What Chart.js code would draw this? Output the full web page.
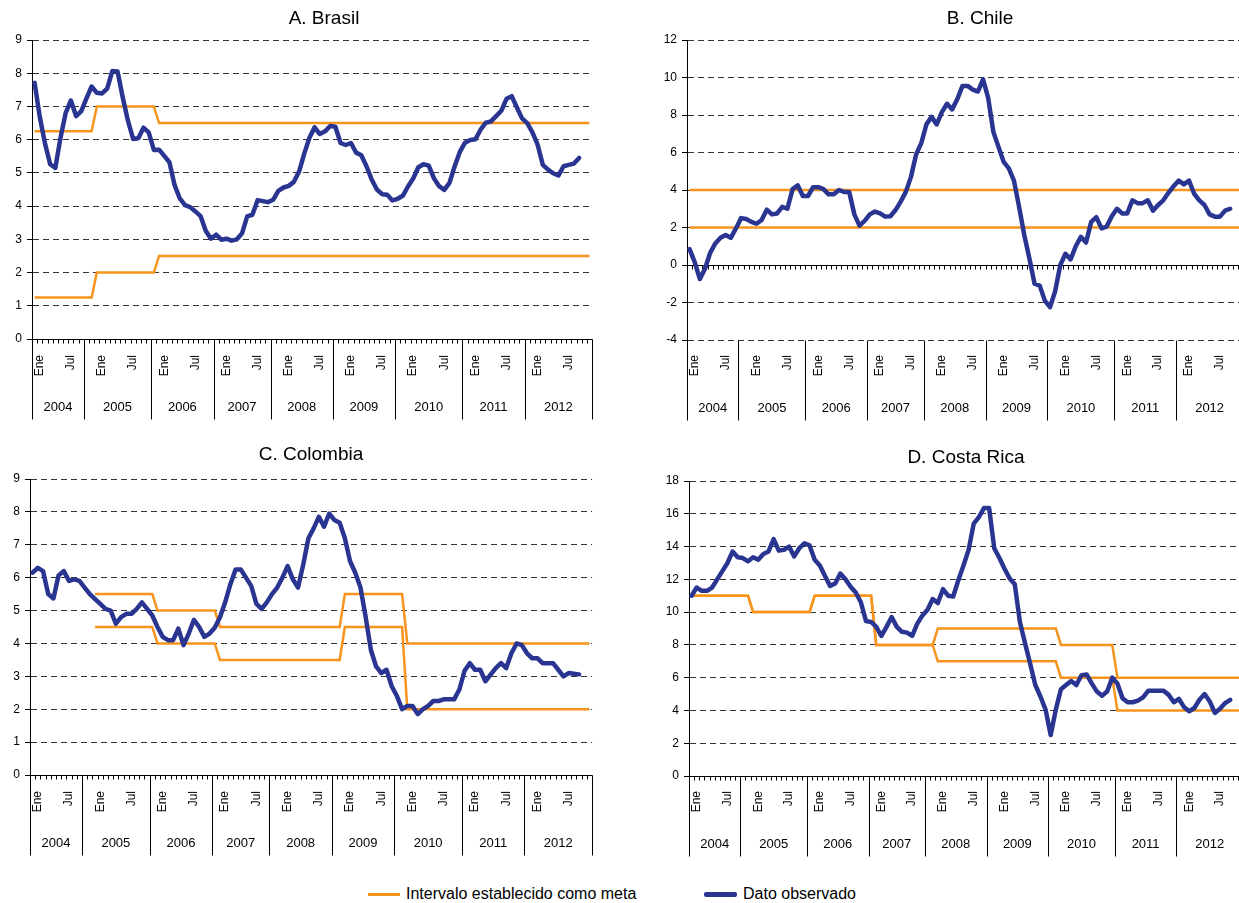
<!DOCTYPE html>
<html>
<head>
<meta charset="utf-8">
<script src="https://cdn.jsdelivr.net/npm/chart.js@4.4.1/dist/chart.umd.min.js"></script>
<style>
html,body{margin:0;padding:0;background:#fff;}
#wrap{position:relative;width:1239px;height:903px;overflow:hidden;font-family:'Liberation Sans',Arial,sans-serif;color:#000;}
canvas{position:absolute;}
.title{position:absolute;font-size:19px;line-height:20px;white-space:nowrap;transform:translateX(-50%);z-index:2;}
.leg{position:absolute;font-size:16px;line-height:18px;white-space:nowrap;display:flex;align-items:center;}
.sw{display:inline-block;margin-right:6px;}
</style>
</head>
<body>
<div id="wrap">
  <canvas id="cA" width="620" height="430" style="left:0;top:0"></canvas>
  <canvas id="cB" width="630" height="430" style="left:640px;top:0"></canvas>
  <canvas id="cC" width="620" height="430" style="left:0;top:435px"></canvas>
  <canvas id="cD" width="630" height="430" style="left:640px;top:435px"></canvas>
  <div class="title" style="left:324px;top:8px">A. Brasil</div>
  <div class="title" style="left:980px;top:8px">B. Chile</div>
  <div class="title" style="left:311px;top:444px">C. Colombia</div>
  <div class="title" style="left:966px;top:447px">D. Costa Rica</div>
  <div class="leg" style="left:368px;top:885px"><span class="sw" style="width:32px;height:3px;background:#F7941D"></span>Intervalo establecido como meta</div>
  <div class="leg" style="left:704px;top:885px"><span class="sw" style="width:33px;height:5px;border-radius:2px;background:#2A3591"></span>Dato observado</div>
</div>
<script>
// ---------- categories / tick labels ----------
const years = ['2004','2005','2006','2007','2008','2009','2010','2011','2012'];
const monthTicks = ['', 'Ene', '', '', '', '', '', 'Jul', '', '', '', ''];
// category boundaries of the year boxes as drawn in the source
const yearBounds = [0, 10, 23, 35, 46, 58, 70, 83, 95, 108];

// ---------- A. Brasil ----------
const brasilObs = [
 7.71,6.69,5.89,5.26,5.15,6.06,6.81,7.18,6.71,6.86,7.24,7.60,
 7.41,7.39,7.54,8.07,8.05,7.27,6.57,6.02,6.04,6.36,6.22,5.69,
 5.70,5.51,5.32,4.63,4.23,4.03,3.97,3.84,3.70,3.26,3.02,3.14,
 2.99,3.02,2.96,3.00,3.18,3.69,3.74,4.18,4.15,4.12,4.19,4.46,
 4.56,4.61,4.73,5.04,5.58,6.06,6.37,6.17,6.25,6.41,6.39,5.90,
 5.84,5.90,5.61,5.53,5.20,4.80,4.50,4.36,4.34,4.17,4.22,4.31,
 4.59,4.83,5.17,5.26,5.22,4.84,4.60,4.49,4.70,5.20,5.63,5.91,
 5.99,6.01,6.30,6.51,6.55,6.71,6.87,7.23,7.31,6.97,6.64,6.50,
 6.22,5.85,5.24,5.10,4.99,4.92,5.20,5.24,5.28,5.45
];
const brasilUpper = [
 6.25,6.25,6.25,6.25,6.25,6.25,6.25,6.25,6.25,6.25,6.25,6.25,
 7,7,7,7,7,7,7,7,7,7,7,7,
 6.5,6.5,6.5,6.5,6.5,6.5,6.5,6.5,6.5,6.5,6.5,6.5,
 6.5,6.5,6.5,6.5,6.5,6.5,6.5,6.5,6.5,6.5,6.5,6.5,
 6.5,6.5,6.5,6.5,6.5,6.5,6.5,6.5,6.5,6.5,6.5,6.5,
 6.5,6.5,6.5,6.5,6.5,6.5,6.5,6.5,6.5,6.5,6.5,6.5,
 6.5,6.5,6.5,6.5,6.5,6.5,6.5,6.5,6.5,6.5,6.5,6.5,
 6.5,6.5,6.5,6.5,6.5,6.5,6.5,6.5,6.5,6.5,6.5,6.5,
 6.5,6.5,6.5,6.5,6.5,6.5,6.5,6.5,6.5,6.5,6.5,6.5
];
const brasilLower = [
 1.25,1.25,1.25,1.25,1.25,1.25,1.25,1.25,1.25,1.25,1.25,1.25,
 2,2,2,2,2,2,2,2,2,2,2,2,
 2.5,2.5,2.5,2.5,2.5,2.5,2.5,2.5,2.5,2.5,2.5,2.5,
 2.5,2.5,2.5,2.5,2.5,2.5,2.5,2.5,2.5,2.5,2.5,2.5,
 2.5,2.5,2.5,2.5,2.5,2.5,2.5,2.5,2.5,2.5,2.5,2.5,
 2.5,2.5,2.5,2.5,2.5,2.5,2.5,2.5,2.5,2.5,2.5,2.5,
 2.5,2.5,2.5,2.5,2.5,2.5,2.5,2.5,2.5,2.5,2.5,2.5,
 2.5,2.5,2.5,2.5,2.5,2.5,2.5,2.5,2.5,2.5,2.5,2.5,
 2.5,2.5,2.5,2.5,2.5,2.5,2.5,2.5,2.5,2.5,2.5,2.5
];

// ---------- B. Chile ----------
const chileObs = [
 0.85,0.15,-0.75,-0.2,0.65,1.15,1.45,1.6,1.45,1.95,2.5,2.45,
 2.3,2.2,2.4,2.95,2.7,2.75,3.1,3.0,4.05,4.25,3.68,3.68,
 4.15,4.15,4.05,3.77,3.77,4.0,3.9,3.9,2.7,2.1,2.35,2.7,
 2.85,2.75,2.58,2.6,2.93,3.38,3.9,4.7,5.9,6.5,7.5,7.9,
 7.5,8.15,8.6,8.3,8.85,9.55,9.55,9.35,9.25,9.9,8.9,7.1,
 6.3,5.5,5.15,4.5,3.1,1.6,0.35,-1.0,-1.1,-1.9,-2.25,-1.4,
 0.0,0.6,0.3,1.0,1.5,1.2,2.3,2.55,1.95,2.05,2.6,3.0,
 2.75,2.75,3.45,3.3,3.3,3.45,2.9,3.2,3.45,3.85,4.2,4.5,
 4.3,4.5,3.8,3.45,3.2,2.7,2.58,2.58,2.9,3.0
];
const chileUpper = [
 4,4,4,4,4,4,4,4,4,4,4,4, 4,4,4,4,4,4,4,4,4,4,4,4, 4,4,4,4,4,4,4,4,4,4,4,4,
 4,4,4,4,4,4,4,4,4,4,4,4, 4,4,4,4,4,4,4,4,4,4,4,4, 4,4,4,4,4,4,4,4,4,4,4,4,
 4,4,4,4,4,4,4,4,4,4,4,4, 4,4,4,4,4,4,4,4,4,4,4,4, 4,4,4,4,4,4,4,4,4,4,4,4
];
const chileLower = [
 2,2,2,2,2,2,2,2,2,2,2,2, 2,2,2,2,2,2,2,2,2,2,2,2, 2,2,2,2,2,2,2,2,2,2,2,2,
 2,2,2,2,2,2,2,2,2,2,2,2, 2,2,2,2,2,2,2,2,2,2,2,2, 2,2,2,2,2,2,2,2,2,2,2,2,
 2,2,2,2,2,2,2,2,2,2,2,2, 2,2,2,2,2,2,2,2,2,2,2,2, 2,2,2,2,2,2,2,2,2,2,2,2
];

// ---------- C. Colombia ----------
const colombiaObs = [
 6.15,6.3,6.2,5.5,5.37,6.07,6.2,5.9,5.95,5.9,5.7,5.5,
 5.35,5.2,5.05,5.0,4.6,4.8,4.9,4.9,5.05,5.25,5.05,4.85,
 4.5,4.2,4.1,4.1,4.45,3.95,4.3,4.72,4.5,4.2,4.3,4.48,
 4.8,5.25,5.8,6.25,6.25,6.0,5.75,5.2,5.05,5.25,5.5,5.7,
 6.0,6.35,5.95,5.7,6.4,7.2,7.5,7.85,7.55,7.95,7.75,7.67,
 7.2,6.5,6.15,5.7,4.8,3.8,3.3,3.1,3.2,2.7,2.4,2.0,
 2.1,2.1,1.85,2.0,2.1,2.25,2.25,2.3,2.3,2.3,2.6,3.17,
 3.4,3.2,3.2,2.85,3.05,3.25,3.4,3.25,3.7,4.0,3.95,3.7,
 3.55,3.55,3.4,3.4,3.4,3.2,3.0,3.1,3.08,3.06
];
const colombiaUpper = [
 null,null,null,null,null,null,null,null,null,null,null,null,
 5.5,5.5,5.5,5.5,5.5,5.5,5.5,5.5,5.5,5.5,5.5,5.5,
 5,5,5,5,5,5,5,5,5,5,5,5,
 4.5,4.5,4.5,4.5,4.5,4.5,4.5,4.5,4.5,4.5,4.5,4.5,
 4.5,4.5,4.5,4.5,4.5,4.5,4.5,4.5,4.5,4.5,4.5,4.5,
 5.5,5.5,5.5,5.5,5.5,5.5,5.5,5.5,5.5,5.5,5.5,5.5,
 4,4,4,4,4,4,4,4,4,4,4,4,
 4,4,4,4,4,4,4,4,4,4,4,4,
 4,4,4,4,4,4,4,4,4,4,4,4
];
const colombiaLower = [
 null,null,null,null,null,null,null,null,null,null,null,null,
 4.5,4.5,4.5,4.5,4.5,4.5,4.5,4.5,4.5,4.5,4.5,4.5,
 4,4,4,4,4,4,4,4,4,4,4,4,
 3.5,3.5,3.5,3.5,3.5,3.5,3.5,3.5,3.5,3.5,3.5,3.5,
 3.5,3.5,3.5,3.5,3.5,3.5,3.5,3.5,3.5,3.5,3.5,3.5,
 4.5,4.5,4.5,4.5,4.5,4.5,4.5,4.5,4.5,4.5,4.5,4.5,
 2,2,2,2,2,2,2,2,2,2,2,2,
 2,2,2,2,2,2,2,2,2,2,2,2,
 2,2,2,2,2,2,2,2,2,2,2,2
];

// ---------- D. Costa Rica ----------
const costaRicaObs = [
 11.0,11.5,11.3,11.3,11.5,12.0,12.5,13.0,13.7,13.35,13.3,13.1,
 13.35,13.2,13.55,13.7,14.45,13.75,13.8,14.0,13.4,13.9,14.2,14.07,
 13.2,12.85,12.2,11.6,11.75,12.35,12.0,11.55,11.2,10.6,9.45,9.4,
 9.1,8.55,9.1,9.7,9.1,8.8,8.75,8.55,9.3,9.8,10.15,10.8,
 10.55,11.4,11.0,10.95,11.95,12.85,13.8,15.4,15.8,16.35,16.35,13.9,
 13.3,12.65,12.05,11.7,9.4,8.1,6.85,5.55,4.85,4.05,2.5,4.05,
 5.3,5.55,5.8,5.55,6.15,6.2,5.65,5.15,4.9,5.15,6.0,5.65,
 4.75,4.5,4.5,4.6,4.8,5.2,5.2,5.2,5.2,4.95,4.5,4.7,
 4.2,3.95,4.15,4.65,5.0,4.55,3.85,4.1,4.45,4.65
];
const costaRicaUpper = [
 11,11,11,11,11,11,11,11,11,11,11,11,
 10,10,10,10,10,10,10,10,10,10,10,10,
 11,11,11,11,11,11,11,11,11,11,11,11,
 8,8,8,8,8,8,8,8,8,8,8,8,
 9,9,9,9,9,9,9,9,9,9,9,9,
 9,9,9,9,9,9,9,9,9,9,9,9,
 8,8,8,8,8,8,8,8,8,8,8,6,
 6,6,6,6,6,6,6,6,6,6,6,6,
 6,6,6,6,6,6,6,6,6,6,6,6
];
const costaRicaLower = [
 11,11,11,11,11,11,11,11,11,11,11,11,
 10,10,10,10,10,10,10,10,10,10,10,10,
 11,11,11,11,11,11,11,11,11,11,11,11,
 8,8,8,8,8,8,8,8,8,8,8,8,
 7,7,7,7,7,7,7,7,7,7,7,7,
 7,7,7,7,7,7,7,7,7,7,7,7,
 6,6,6,6,6,6,6,6,6,6,6,4,
 4,4,4,4,4,4,4,4,4,4,4,4,
 4,4,4,4,4,4,4,4,4,4,4,4
];

// ---------- drawing ----------
const NAVY = '#2A3591';
const ORANGE = '#F7941D';
const FONT = "'Liberation Sans', Arial, sans-serif";
Chart.defaults.font.family = FONT;
Chart.defaults.color = '#000';

const categories = years.flatMap(() => monthTicks);

const axisDecor = {
  id: 'axisDecor',
  beforeDatasetsDraw(chart) {
    const {ctx, chartArea} = chart;
    const xs = chart.scales.x, ys = chart.scales.y;
    const n = xs.getLabels().length;
    const y0 = Math.round(ys.getPixelForValue(0)) + 0.5;
    const bottom = Math.round(chartArea.bottom) + 0.5;
    ctx.save();
    ctx.strokeStyle = '#000';
    ctx.lineWidth = 1;
    ctx.setLineDash([]);
    ctx.beginPath();
    ctx.moveTo(chartArea.left, y0);
    ctx.lineTo(chartArea.right, y0);
    for (let i = 0; i <= n; i++) {
      const px = Math.round(xs.getPixelForValue(i - 0.5)) + 0.5;
      ctx.moveTo(px, y0);
      ctx.lineTo(px, y0 + 4);
    }
    yearBounds.forEach(b => {
      const px = Math.round(xs.getPixelForValue(b - 0.5)) + 0.5;
      ctx.moveTo(px, bottom);
      ctx.lineTo(px, bottom + 80);
    });
    ctx.stroke();
    ctx.fillStyle = '#000';
    ctx.font = '13px ' + FONT;
    ctx.textAlign = 'center';
    ctx.textBaseline = 'middle';
    years.forEach((yr, k) => {
      const cx = (xs.getPixelForValue(yearBounds[k] - 0.5) + xs.getPixelForValue(yearBounds[k + 1] - 0.5)) / 2;
      ctx.fillText(yr, cx, bottom + 68);
    });
    ctx.restore();
  }
};

function makeChart(id, obs, upper, lower, c) {
  return new Chart(document.getElementById(id), {
    type: 'line',
    data: {
      labels: categories,
      datasets: [
        {label: 'Dato observado', data: obs, borderColor: NAVY, borderWidth: 4.5, pointRadius: 0, tension: 0,
         borderJoinStyle: 'round', borderCapStyle: 'round'},
        {label: 'Intervalo establecido como meta', data: upper, borderColor: ORANGE, borderWidth: 2.5, pointRadius: 0, tension: 0},
        {label: 'Intervalo (inferior)', data: lower, borderColor: ORANGE, borderWidth: 2.5, pointRadius: 0, tension: 0}
      ]
    },
    options: {
      responsive: false, animation: false, events: [],
      layout: {padding: {left: 0, right: c.padR, top: c.padT, bottom: 0}},
      plugins: {legend: {display: false}, title: {display: false}, tooltip: {enabled: false}},
      scales: {
        x: {
          type: 'category', offset: true,
          grid: {display: false, drawTicks: false},
          border: {display: false},
          ticks: {autoSkip: false, minRotation: 90, maxRotation: 90, padding: c.lblPad, font: {size: 12}, color: '#000'},
          afterFit(s) { s.height = c.xH; }
        },
        y: {
          min: c.min, max: c.max,
          ticks: {stepSize: c.step, font: {size: 12}, color: '#000', padding: 5},
          grid: {color: '#333', lineWidth: 1, drawTicks: true, tickLength: 5, tickColor: '#000'},
          border: {display: true, color: '#000', width: 1, dash: [6, 4]},
          afterFit(s) { s.width = c.yW; }
        }
      }
    },
    plugins: [axisDecor]
  });
}

makeChart('cA', brasilObs, brasilUpper, brasilLower, {min: 0, max: 9, step: 1, padR: 26, padT: 40, xH: 91, yW: 32, lblPad: 16});
makeChart('cB', chileObs, chileUpper, chileLower, {min: -4, max: 12, step: 2, padR: 20, padT: 40, xH: 90, yW: 47, lblPad: 15});
makeChart('cC', colombiaObs, colombiaUpper, colombiaLower, {min: 0, max: 9, step: 1, padR: 27, padT: 44, xH: 90, yW: 30, lblPad: 16});
makeChart('cD', costaRicaObs, costaRicaUpper, costaRicaLower, {min: 0, max: 18, step: 2, padR: 18, padT: 46, xH: 89, yW: 49, lblPad: 15});
</script>
</body>
</html>
